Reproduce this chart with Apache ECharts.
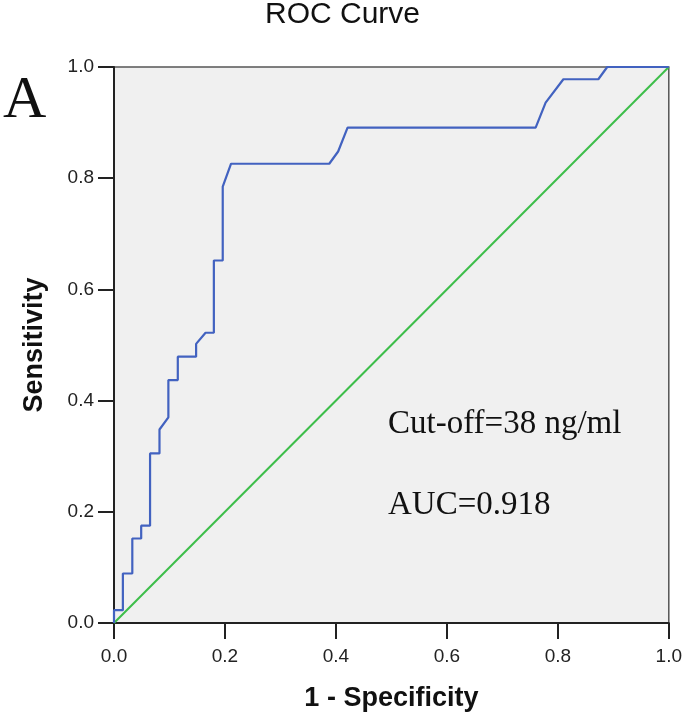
<!DOCTYPE html>
<html>
<head>
<meta charset="utf-8">
<script src="https://cdn.jsdelivr.net/npm/echarts@6/dist/echarts.min.js"></script>
<style>
html,body{margin:0;padding:0;background:#fff;}
#chart{width:685px;height:717px;}
</style>
</head>
<body>
<div id="chart"></div>
<script>
// ROC curve points (1 - Specificity, Sensitivity)
const rocFPR = [0, 0, 0.016, 0.016, 0.033, 0.033, 0.049, 0.049, 0.065, 0.065, 0.082, 0.082, 0.098, 0.098, 0.115, 0.115, 0.148, 0.148, 0.165, 0.180, 0.180, 0.196, 0.196, 0.211, 0.388, 0.404, 0.421, 0.760, 0.778, 0.810, 0.873, 0.889, 1.0];
const rocTPR = [0, 0.023, 0.023, 0.089, 0.089, 0.152, 0.152, 0.175, 0.175, 0.305, 0.305, 0.348, 0.370, 0.437, 0.437, 0.479, 0.479, 0.502, 0.522, 0.522, 0.652, 0.652, 0.785, 0.826, 0.826, 0.848, 0.891, 0.891, 0.936, 0.978, 0.978, 1.0, 1.0];
// reference diagonal
const refX = [0, 1];
const refY = [0, 1];
// ticks
const tickValues = ['0.0', '0.2', '0.4', '0.6', '0.8', '1.0'];
const titleText = 'ROC Curve';
const xName = '1 - Specificity';
const yName = 'Sensitivity';
const panelLetter = 'A';
const noteCutoff = 'Cut-off=38 ng/ml';
const noteAUC = 'AUC=0.918';

const rocData = rocFPR.map((x, i) => [x, rocTPR[i]]);
const refData = refX.map((x, i) => [x, refY[i]]);

const chart = echarts.init(document.getElementById('chart'));
const sans = 'Liberation Sans, Arial, sans-serif';
const serif = 'Liberation Serif, Times New Roman, serif';

const axisCommon = {
  type: 'value', min: 0, max: 1, interval: 0.2,
  axisLine: { show: true, lineStyle: { color: '#222', width: 2 } },
  axisTick: { show: true, inside: false, length: 16, lineStyle: { color: '#222', width: 2 } },
  splitLine: { show: false },
  axisLabel: {
    color: '#222', fontSize: 19, fontFamily: sans,
    formatter: v => tickValues[Math.round(v / 0.2)]
  },
  nameLocation: 'middle',
  nameTextStyle: { color: '#111', fontSize: 27, fontWeight: 'bold', fontFamily: sans }
};

chart.setOption({
  animation: false,
  backgroundColor: '#ffffff',
  title: {
    text: titleText, left: 'center', top: 0, padding: 0,
    textStyle: { color: '#111', fontSize: 30, fontWeight: 'normal', fontFamily: sans }
  },
  grid: {
    left: 114, right: 15, top: 67, bottom: 94,
    show: true, backgroundColor: '#F0F0F0', borderColor: '#555', borderWidth: 1.5
  },
  xAxis: Object.assign({}, axisCommon, {
    name: xName, nameGap: 62,
    axisLabel: Object.assign({}, axisCommon.axisLabel, { margin: 24 })
  }),
  yAxis: Object.assign({}, axisCommon, {
    name: yName, nameGap: 66,
    axisLabel: Object.assign({}, axisCommon.axisLabel, { margin: 20 })
  }),
  graphic: [
    { type: 'text', left: 3, top: 71, style: { text: panelLetter, font: '60px ' + serif, fill: '#111' } },
    { type: 'text', left: 388, top: 408, style: { text: noteCutoff, font: '33px ' + serif, fill: '#111' } },
    { type: 'text', left: 388, top: 489, style: { text: noteAUC, font: '33px ' + serif, fill: '#111' } }
  ],
  series: [
    {
      type: 'line', data: refData, showSymbol: false, symbol: 'none',
      lineStyle: { color: '#3DBE4A', width: 2 }, z: 2
    },
    {
      type: 'line', data: rocData, showSymbol: false, symbol: 'none',
      lineStyle: { color: '#4262C0', width: 2.2 }, z: 3
    }
  ]
});
</script>
</body>
</html>
